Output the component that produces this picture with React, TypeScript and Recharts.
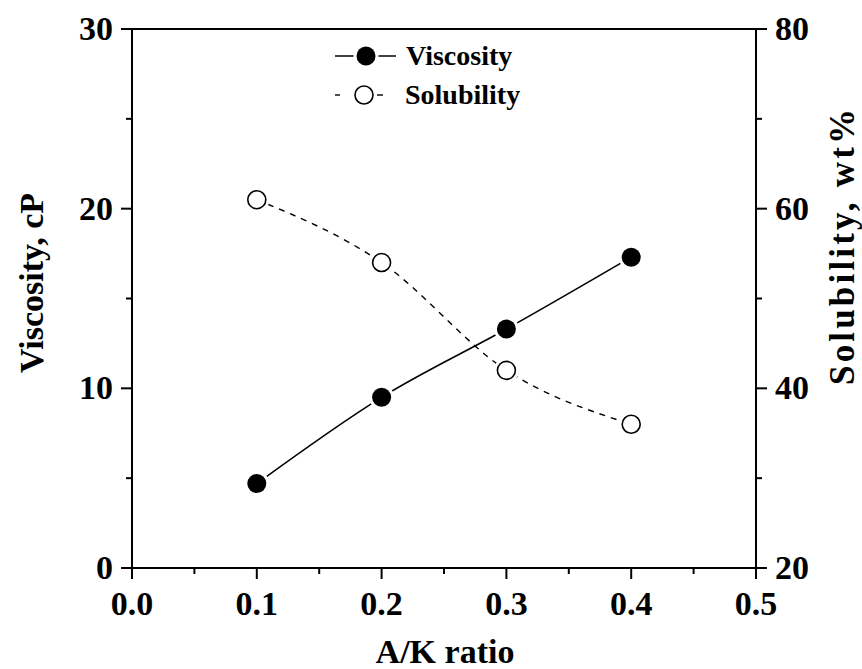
import React from 'react'
import {
  LineChart,
  Line,
  XAxis,
  YAxis,
  ReferenceLine,
} from 'recharts'

const ratios = [0.1, 0.2, 0.3, 0.4]
const viscosity = [4.7, 9.5, 13.3, 17.3]
const solubility = [61, 54, 42, 36]

const xTicks = [0, 0.05, 0.1, 0.15, 0.2, 0.25, 0.3, 0.35, 0.4, 0.45, 0.5]
const leftTicks = [0, 5, 10, 15, 20, 25, 30]
const rightTicks = [20, 30, 40, 50, 60, 70, 80]
const leftMajor = [0, 10, 20, 30]
const rightMajor = [20, 40, 60, 80]

const FONT = '"Liberation Serif", "Times New Roman", serif'
const TICK_SIZE = 34

const data = ratios.map((r, i) => ({
  ratio: r,
  viscosity: viscosity[i],
  solubility: solubility[i],
}))

const isXMajor = (v: number) => Math.abs(v * 10 - Math.round(v * 10)) < 1e-6

function XTick(props: any) {
  const { x, y, payload } = props
  const major = isXMajor(payload.value)
  return (
    <g>
      <line x1={x} x2={x} y1={y} y2={y + (major ? 11 : 6)} stroke="#000" strokeWidth={2} />
      {major && (
        <text x={x} y={y + 47} textAnchor="middle" fontFamily={FONT} fontWeight="bold" fontSize={TICK_SIZE} fill="#000">
          {payload.value.toFixed(1)}
        </text>
      )}
    </g>
  )
}

function LeftTick(props: any) {
  const { x, y, payload } = props
  const major = leftMajor.includes(payload.value)
  return (
    <g>
      <line x1={x} x2={x - (major ? 11 : 6)} y1={y} y2={y} stroke="#000" strokeWidth={2} />
      {major && (
        <text x={x - 19} y={y + 11} textAnchor="end" fontFamily={FONT} fontWeight="bold" fontSize={TICK_SIZE} fill="#000">
          {payload.value}
        </text>
      )}
    </g>
  )
}

function RightTick(props: any) {
  const { x, y, payload } = props
  const major = rightMajor.includes(payload.value)
  return (
    <g>
      <line x1={x} x2={x + (major ? 11 : 6)} y1={y} y2={y} stroke="#000" strokeWidth={2} />
      {major && (
        <text x={x + 19} y={y + 11} textAnchor="start" fontFamily={FONT} fontWeight="bold" fontSize={TICK_SIZE} fill="#000">
          {payload.value}
        </text>
      )}
    </g>
  )
}

// white halo behind markers gives the little gap between line and symbol
function FilledDot(props: any) {
  const { cx, cy, index } = props
  return (
    <g key={`vd-${index}`}>
      <circle cx={cx} cy={cy} r={12.5} fill="#fff" />
      <circle cx={cx} cy={cy} r={9.5} fill="#000" />
    </g>
  )
}

function OpenDot(props: any) {
  const { cx, cy, index } = props
  return (
    <g key={`sd-${index}`}>
      <circle cx={cx} cy={cy} r={12.5} fill="#fff" />
      <circle cx={cx} cy={cy} r={9} fill="#fff" stroke="#000" strokeWidth={1.6} />
    </g>
  )
}

export default function App() {
  return (
    <div style={{ position: 'absolute', left: 0, top: 0, width: 862, height: 669 }}>
      <LineChart
        width={862}
        height={669}
        data={data}
        margin={{ top: 29, right: 46, bottom: 41, left: 72 }}
      >
        <XAxis
          type="number"
          dataKey="ratio"
          domain={[0, 0.5]}
          ticks={xTicks}
          interval={0}
          tickSize={0}
          tickMargin={0}
          tickLine={false}
          height={60}
          axisLine={{ stroke: '#000', strokeWidth: 2 }}
          tick={<XTick />}
        />
        <YAxis
          yAxisId="left"
          orientation="left"
          domain={[0, 30]}
          ticks={leftTicks}
          interval={0}
          width={60}
          tickSize={0}
          tickMargin={0}
          tickLine={false}
          axisLine={{ stroke: '#000', strokeWidth: 2 }}
          tick={<LeftTick />}
        />
        <YAxis
          yAxisId="right"
          orientation="right"
          domain={[20, 80]}
          ticks={rightTicks}
          interval={0}
          width={60}
          tickSize={0}
          tickMargin={0}
          tickLine={false}
          axisLine={{ stroke: '#000', strokeWidth: 2 }}
          tick={<RightTick />}
        />
        <ReferenceLine yAxisId="left" y={30} stroke="#000" strokeWidth={2} />
        <Line
          yAxisId="right"
          type="monotone"
          dataKey="solubility"
          stroke="#000"
          strokeWidth={1.4}
          strokeDasharray="6 6"
          dot={<OpenDot />}
          activeDot={false}
          isAnimationActive={false}
        />
        <Line
          yAxisId="left"
          type="monotone"
          dataKey="viscosity"
          stroke="#000"
          strokeWidth={1.6}
          dot={<FilledDot />}
          activeDot={false}
          isAnimationActive={false}
        />
      </LineChart>
      <svg
        width={862}
        height={669}
        style={{ position: 'absolute', left: 0, top: 0, pointerEvents: 'none' }}
      >
        <g fontFamily={FONT} fontWeight="bold" fill="#000">
          <text x={31} y={283} fontSize={34} textAnchor="middle" dominantBaseline="central" transform="rotate(-90 31 283)">
            Viscosity, cP
          </text>
          <text
            x={842}
            y={247}
            fontSize={35}
            textAnchor="middle"
            dominantBaseline="central"
            textLength={276}
            lengthAdjust="spacing"
            transform="rotate(-90 842 247)"
          >
            Solubility, wt%
          </text>
          <text x={445} y={663} fontSize={34} textAnchor="middle">
            A/K ratio
          </text>
        </g>
        {/* legend */}
        <line x1={335} x2={396} y1={56} y2={56} stroke="#000" strokeWidth={1.6} />
        <circle cx={366} cy={56} r={12.5} fill="#fff" />
        <circle cx={366} cy={56} r={9.5} fill="#000" />
        <text x={406} y={65} fontFamily={FONT} fontWeight="bold" fontSize={28}>Viscosity</text>
        <line x1={335} x2={340} y1={95} y2={95} stroke="#000" strokeWidth={1.4} />
        <circle cx={364} cy={95} r={9} fill="#fff" stroke="#000" strokeWidth={1.6} />
        <line x1={377} x2={383} y1={95} y2={95} stroke="#000" strokeWidth={1.4} />
        <text x={405} y={104} fontFamily={FONT} fontWeight="bold" fontSize={28}>Solubility</text>
      </svg>
    </div>
  )
}
